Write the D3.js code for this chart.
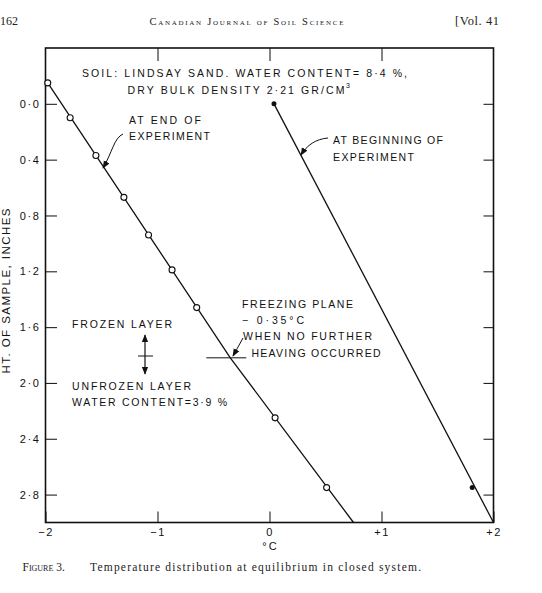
<!DOCTYPE html>
<html>
<head>
<meta charset="utf-8">
<script src="https://cdn.jsdelivr.net/npm/d3@7/dist/d3.min.js"></script>
<style>
  body { margin: 0; background: #fff; }
  svg { display: block; }
  .lbl { font-family: "Liberation Sans", Arial, sans-serif; fill: #111; }
  .serif { font-family: "Liberation Serif", "Times New Roman", serif; fill: #222; }
</style>
</head>
<body>
<div id="chart-area"></div>
<script>
// Data
var endTemp = [-1.98, -1.78, -1.55, -1.30, -1.08, -0.87, -0.65, 0.05, 0.51];
var endHeight = [-0.15, 0.10, 0.37, 0.67, 0.94, 1.19, 1.46, 2.25, 2.75];
var endLineTemp = [-1.98, -0.35, 0.75];
var endLineHeight = [-0.15, 1.82, 3.0];

var beginTemp = [0.04, 1.81];
var beginHeight = [0.0, 2.75];
var beginLineTemp = [0.04, 2.0];
var beginLineHeight = [0.0, 3.0];

var freezeTemp = -0.35;
var freezeHeight = 1.82;

var xTicks = [-2, -1, 0, 1, 2];
var xTickLabels = ["\u22122", "\u22121", "0", "+1", "+2"];
var yTicks = [0, 0.4, 0.8, 1.2, 1.6, 2.0, 2.4, 2.8];
var yTickLabels = ["0\u00b70", "0\u00b74", "0\u00b78", "1\u00b72", "1\u00b76", "2\u00b70", "2\u00b74", "2\u00b78"];

var width = 542, height = 593;
var plot = { left: 45.5, right: 493.5, top: 48, bottom: 522.5 };

var svg = d3.select("#chart-area")
    .append("svg")
    .attr("width", width)
    .attr("height", height);

// X Scale
var x = d3.scaleLinear().domain([-2, 2]).range([plot.left, plot.right]);
// Y Scale (height of sample, downward)
var y = d3.scaleLinear().domain([-0.4, 3.0]).range([plot.top, plot.bottom]);

// page header
svg.append("text").attr("class", "serif")
    .attr("x", 0).attr("y", 25).style("font-size", "12px").text("162");
svg.append("text").attr("class", "serif")
    .attr("x", 149.5).attr("y", 25).style("font-size", "10.5px")
    .style("font-variant", "small-caps")
    .attr("textLength", 194).attr("lengthAdjust", "spacing")
    .text("Canadian Journal of Soil Science");
svg.append("text").attr("class", "serif")
    .attr("x", 455).attr("y", 25).style("font-size", "12.5px")
    .attr("textLength", 44).attr("lengthAdjust", "spacing")
    .text("[Vol. 41");

// Axes
var fmtY = function(d) { return yTickLabels[yTicks.indexOf(d)]; };
var fmtX = function(d) { return xTickLabels[xTicks.indexOf(d)]; };

svg.append("g")
    .attr("transform", "translate(" + plot.left + ",0)")
    .call(d3.axisLeft(y).tickValues(yTicks).tickSize(-11.5).tickPadding(5).tickFormat(fmtY));
svg.append("g")
    .attr("transform", "translate(" + plot.right + ",0)")
    .call(d3.axisRight(y).tickValues(yTicks).tickSize(-10).tickFormat(""));
svg.append("g")
    .attr("transform", "translate(0," + plot.top + ")")
    .call(d3.axisTop(x).tickValues([-1, 0, 1]).tickSize(-13).tickFormat(""));
svg.append("g")
    .attr("transform", "translate(0," + plot.bottom + ")")
    .call(d3.axisBottom(x).tickValues(xTicks).tickSize(-11).tickPadding(6).tickFormat(fmtX));

svg.selectAll(".domain").remove();
svg.selectAll(".tick line").attr("stroke", "#222").attr("stroke-width", 1.1);
svg.selectAll(".tick text")
    .attr("fill", "#111")
    .attr("font-family", "Liberation Sans, Arial, sans-serif")
    .attr("font-size", "11px")
    .attr("letter-spacing", "1.6px");

// frame
svg.append("rect")
    .attr("x", plot.left).attr("y", plot.top)
    .attr("width", plot.right - plot.left).attr("height", plot.bottom - plot.top)
    .attr("fill", "none").attr("stroke", "#111").attr("stroke-width", 1.6);

// axis titles
svg.append("text").attr("class", "lbl")
    .attr("x", x(0) + 1).attr("y", 549.5)
    .attr("text-anchor", "middle").style("font-size", "11px")
    .attr("letter-spacing", "2px")
    .text("\u00b0C");

svg.append("text").attr("class", "lbl")
    .attr("transform", "translate(10,291) rotate(-90)")
    .attr("text-anchor", "middle").style("font-size", "11.5px")
    .attr("textLength", 165).attr("lengthAdjust", "spacing")
    .text("HT. OF SAMPLE, INCHES");

// arrow marker
svg.append("defs").append("marker")
    .attr("id", "head")
    .attr("viewBox", "0 0 10 10")
    .attr("refX", 9).attr("refY", 5)
    .attr("markerWidth", 8).attr("markerHeight", 8)
    .attr("markerUnits", "userSpaceOnUse")
    .attr("orient", "auto")
    .append("path").attr("d", "M0,1 L10,5 L0,9 Z").attr("fill", "#111");

var line = d3.line()
    .x(function(d) { return x(d[0]); })
    .y(function(d) { return y(d[1]); });

// At end of experiment
svg.append("path")
    .datum(d3.zip(endLineTemp, endLineHeight))
    .attr("d", line)
    .attr("fill", "none").attr("stroke", "#111").attr("stroke-width", 1.3);

svg.selectAll("circle.end")
    .data(d3.zip(endTemp, endHeight))
    .enter().append("circle")
    .attr("class", "end")
    .attr("cx", function(d) { return x(d[0]); })
    .attr("cy", function(d) { return y(d[1]); })
    .attr("r", 3)
    .attr("fill", "#fff").attr("stroke", "#111").attr("stroke-width", 1.1);

// At beginning of experiment
svg.append("path")
    .datum(d3.zip(beginLineTemp, beginLineHeight))
    .attr("d", line)
    .attr("fill", "none").attr("stroke", "#111").attr("stroke-width", 1.3);

svg.selectAll("circle.begin")
    .data(d3.zip(beginTemp, beginHeight))
    .enter().append("circle")
    .attr("class", "begin")
    .attr("cx", function(d) { return x(d[0]); })
    .attr("cy", function(d) { return y(d[1]); })
    .attr("r", 2.5)
    .attr("fill", "#111");

// Freezing plane marker
svg.append("line")
    .attr("x1", x(freezeTemp) - 24).attr("x2", x(freezeTemp) + 16)
    .attr("y1", y(freezeHeight)).attr("y2", y(freezeHeight))
    .attr("stroke", "#111").attr("stroke-width", 1);

// annotations
var notes = [
    { t: "SOIL: LINDSAY  SAND. WATER  CONTENT= 8\u00b74 %,", x: 82, y: 77, w: 325 },
    { t: "DRY  BULK  DENSITY  2\u00b721  GR/CM", x: 127.5, y: 93.5, w: 217 },
    { t: "AT END OF", x: 129, y: 123.5, w: 72 },
    { t: "EXPERIMENT", x: 129, y: 140, w: 81 },
    { t: "AT BEGINNING OF", x: 333, y: 144, w: 110 },
    { t: "EXPERIMENT", x: 333, y: 160.5, w: 81 },
    { t: "FROZEN LAYER", x: 72, y: 327.5, w: 100 },
    { t: "UNFROZEN LAYER", x: 72, y: 389.5, w: 119 },
    { t: "WATER CONTENT=3\u00b79 %", x: 72, y: 406, w: 155 },
    { t: "FREEZING PLANE", x: 242, y: 307.5, w: 111 },
    { t: "\u2212 0\u00b735\u00b0C", x: 242, y: 323.5, w: 62 },
    { t: "WHEN NO FURTHER", x: 243, y: 340, w: 129 },
    { t: "HEAVING OCCURRED", x: 251.5, y: 356.5, w: 129 }
];

svg.selectAll("text.note")
    .data(notes)
    .enter().append("text")
    .attr("class", "note lbl")
    .attr("x", function(d) { return d.x; })
    .attr("y", function(d) { return d.y; })
    .style("font-size", "10.5px")
    .attr("textLength", function(d) { return d.w; })
    .attr("lengthAdjust", "spacing")
    .text(function(d) { return d.t; });

// superscript 3 of CM3
svg.append("text").attr("class", "lbl")
    .attr("x", 346).attr("y", 88).style("font-size", "7px").text("3");

// pointer arrows
var arrows = [
    "M123,134 C114,138 112,153 103,168",
    "M328,138 C316,139 307,145 301,155",
    "M243,338 L233,356"
];
svg.selectAll("path.arrow")
    .data(arrows)
    .enter().append("path")
    .attr("class", "arrow")
    .attr("d", function(d) { return d; })
    .attr("fill", "none").attr("stroke", "#111").attr("stroke-width", 1)
    .attr("marker-end", "url(#head)");

// frozen / unfrozen double arrow
svg.append("path")
    .attr("d", "M145,356 L145,335")
    .attr("stroke", "#111").attr("stroke-width", 1.2).attr("marker-end", "url(#head)");
svg.append("path")
    .attr("d", "M145,356 L145,374")
    .attr("stroke", "#111").attr("stroke-width", 1.2).attr("marker-end", "url(#head)");
svg.append("line")
    .attr("x1", 138).attr("x2", 153).attr("y1", 356).attr("y2", 356)
    .attr("stroke", "#111").attr("stroke-width", 1);

// caption
var cap = svg.append("text").attr("class", "serif")
    .attr("x", 22.5).attr("y", 571).style("font-size", "11.5px");
cap.append("tspan").style("font-variant", "small-caps").text("Figure 3.");
cap.append("tspan").attr("x", 90)
    .attr("textLength", 331).attr("lengthAdjust", "spacing")
    .text("Temperature distribution at equilibrium in closed system.");
</script>
</body>
</html>
